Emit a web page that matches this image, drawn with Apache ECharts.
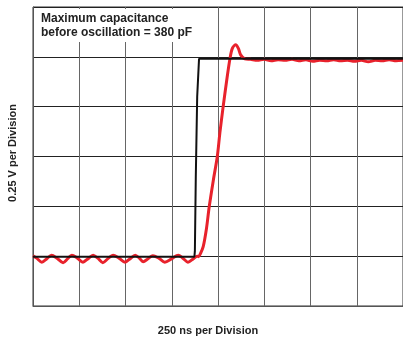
<!DOCTYPE html>
<html>
<head>
<meta charset="utf-8">
<script src="https://cdn.jsdelivr.net/npm/echarts@6/dist/echarts.min.js"></script>
<style>
  html, body { margin: 0; padding: 0; background: #fff; }
  #chart { width: 403px; height: 337px; }
</style>
</head>
<body>
<div id="chart"></div>
<script>
// x in divisions (250 ns each), y in divisions (0.25 V each)
const inputX = [0, 3.49, 3.50, 3.52, 3.55, 3.59, 8];
const inputY = [0.99, 0.99, 1.10, 2.60, 4.20, 4.96, 4.96];

const outputX = [
  0, 0.08, 0.19, 0.30, 0.40, 0.52, 0.65, 0.75, 0.84, 0.96,
  1.08, 1.19, 1.30, 1.40, 1.51, 1.62, 1.73, 1.86, 1.99, 2.10,
  2.21, 2.30, 2.38, 2.49, 2.59, 2.72, 2.85, 3.00, 3.14, 3.24,
  3.35, 3.47, 3.55, 3.58, 3.62, 3.68, 3.75, 3.81, 3.90, 3.985,
  4.04, 4.11, 4.19, 4.26, 4.31, 4.38, 4.44, 4.49, 4.58, 4.70,
  4.85, 5.00, 5.15, 5.30, 5.45, 5.60, 5.75, 5.90, 6.05, 6.20,
  6.35, 6.50, 6.65, 6.80, 6.95, 7.10, 7.25, 7.40, 7.55, 7.70,
  7.85, 8.00
];
const outputY = [
  1.01, 0.96, 0.88, 0.95, 1.02, 0.96, 0.87, 0.95, 1.02, 0.96,
  0.88, 0.95, 1.02, 0.96, 0.87, 0.95, 1.02, 0.96, 0.88, 0.95,
  1.02, 0.96, 0.89, 0.95, 1.01, 0.96, 0.88, 0.95, 1.02, 0.96,
  0.88, 0.95, 1.00, 0.99, 1.05, 1.19, 1.55, 1.99, 2.53, 3.00,
  3.47, 3.99, 4.54, 4.97, 5.17, 5.24, 5.17, 5.04, 4.96, 4.95,
  4.93, 4.95, 4.92, 4.94, 4.93, 4.95, 4.92, 4.94, 4.91, 4.93,
  4.92, 4.94, 4.92, 4.93, 4.91, 4.93, 4.90, 4.93, 4.92, 4.94,
  4.92, 4.93
];

const xDivisions = 8;
const yDivisions = 6;

const noteText = "Maximum capacitance\nbefore oscillation = 380 pF";
const xName = "250 ns per Division";
const yName = "0.25 V per Division";

function pairs(xs, ys) {
  return xs.map(function (x, i) { return [x, ys[i]]; });
}

const chart = echarts.init(document.getElementById("chart"));
chart.setOption({
  animation: false,
  // right edge of the scope grid runs off the picture, so no right border
  grid: {
    left: 33, top: 7, width: 372, height: 299,
    show: true, borderColor: "#333", borderWidth: 1, backgroundColor: "transparent"
  },
  xAxis: {
    type: "value",
    min: 0,
    max: xDivisions,
    interval: 1,
    axisLabel: { show: false },
    axisTick: { show: false },
    axisLine: { show: true, onZero: false, lineStyle: { color: "#555", width: 1 } },
    splitLine: { show: true, lineStyle: { color: "#666", width: 1 } }
  },
  yAxis: {
    type: "value",
    min: 0,
    max: yDivisions,
    interval: 1,
    axisLabel: { show: false },
    axisTick: { show: false },
    axisLine: { show: true, onZero: false, lineStyle: { color: "#555", width: 1 } },
    splitLine: { show: true, lineStyle: { color: "#222", width: 1 } }
  },
  series: [
    {
      name: "input",
      type: "line",
      data: pairs(inputX, inputY),
      showSymbol: false,
      lineStyle: { color: "#111", width: 2 },
      z: 3
    },
    {
      name: "output",
      type: "line",
      data: pairs(outputX, outputY),
      showSymbol: false,
      smooth: 0.3,
      lineStyle: { color: "#e8222c", width: 3 },
      z: 2
    }
  ],
  graphic: [
    {
      type: "rect",
      z: 100,
      shape: { x: 34, y: 9, width: 172, height: 33 },
      style: { fill: "#fff" }
    },
    {
      type: "text",
      z: 101,
      x: 41,
      y: 12,
      style: {
        text: noteText,
        font: "bold 12px 'Liberation Sans', Arial, sans-serif",
        fill: "#222",
        lineHeight: 14,
        textVerticalAlign: "top"
      }
    },
    {
      type: "text",
      x: 208,
      y: 331,
      style: {
        text: xName,
        font: "bold 11px 'Liberation Sans', Arial, sans-serif",
        fill: "#222",
        textAlign: "center",
        textVerticalAlign: "middle"
      }
    },
    {
      type: "text",
      x: 13,
      y: 153,
      rotation: Math.PI / 2,
      style: {
        text: yName,
        font: "bold 11px 'Liberation Sans', Arial, sans-serif",
        fill: "#222",
        textAlign: "center",
        textVerticalAlign: "middle"
      }
    }
  ]
});
</script>
</body>
</html>
